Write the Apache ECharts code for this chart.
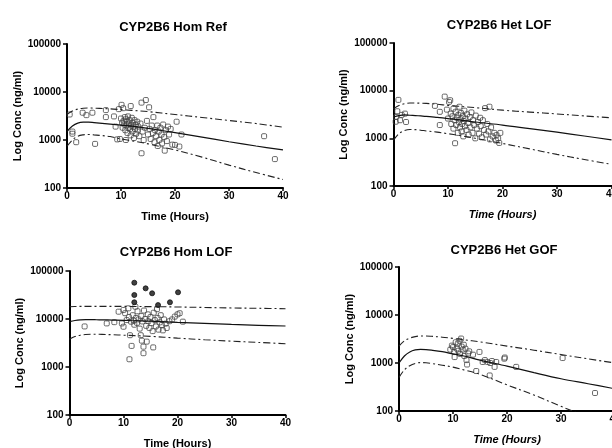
<!DOCTYPE html>
<html>
<head>
<meta charset="utf-8">
<script src="https://cdn.jsdelivr.net/npm/echarts@6/dist/echarts.min.js"></script>
<style>
html,body{margin:0;padding:0;background:#fff;}
#chart{width:612px;height:448px;}
</style>
</head>
<body>
<div id="chart"></div>
<script>
// ---------- DATA ----------
const panelTitles = ['CYP2B6 Hom Ref', 'CYP2B6 Het LOF', 'CYP2B6 Hom LOF', 'CYP2B6 Het GOF'];
const xTickLabels = ['0', '10', '20', '30', '40'];
const yTickLabels = ['100', '1000', '10000', '100000'];
const xAxisTitle = 'Time (Hours)';
const yAxisTitle = 'Log Conc (ng/ml)';

const curveTimes = [0, 1, 2, 3, 4, 5, 6, 8, 10, 12, 15, 20, 25, 30, 35, 40];

// Panel 1: Hom Ref
const homRefMedian = [1500, 1950, 2250, 2350, 2350, 2300, 2250, 2150, 2050, 1950, 1750, 1420, 1150, 920, 750, 620];
const homRefUpper  = [3400, 4000, 4400, 4600, 4650, 4600, 4550, 4450, 4300, 4150, 3900, 3400, 2950, 2550, 2200, 1850];
const homRefLower  = [740, 1000, 1200, 1280, 1300, 1280, 1250, 1180, 1050, 960, 830, 620, 440, 300, 210, 150];
const homRefObs = [
  [0.5,3400],[1.0,1500],[1.0,1350],[1.7,900],[2.9,3700],[3.6,3300],[4.7,3700],[5.2,830],[7.2,4200],[7.2,3000],
  [8.7,3100],[9.0,1900],[9.3,1030],[9.6,4400],[9.8,1050],[10.1,5400],[10.4,4600],[11.8,5100],[10.0,2800],[10.2,2300],
  [10.3,1800],[10.5,2500],[10.6,2100],[10.7,3000],[10.8,1600],[10.9,2700],[10.9,1000],[11.0,2000],[11.1,2400],[11.2,1400],
  [11.3,3100],[11.4,1800],[11.5,2200],[11.6,2600],[11.7,1700],[11.8,1250],[11.9,2000],[12.0,2900],[12.1,1500],[12.2,2300],
  [12.3,1900],[12.4,1100],[12.5,2600],[12.6,1700],[12.7,2100],[12.8,1350],[13.0,2400],[13.1,1600],[13.2,1900],[13.4,1200],
  [13.6,2200],[13.8,6000],[13.8,530],[14.0,1500],[14.2,1000],[14.4,1800],[14.6,6800],[14.8,2500],[15.0,1300],[15.2,4800],
  [15.3,1700],[15.5,1050],[15.7,2000],[15.9,1400],[16.0,3000],[16.2,900],[16.3,1600],[16.5,1200],[16.7,2000],[16.8,750],
  [17.0,1500],[17.1,1000],[17.3,1800],[17.5,1300],[17.6,850],[17.8,2100],[18.0,1150],[18.1,600],[18.3,1600],[18.5,950],
  [18.7,1900],[18.9,1300],[19.2,1700],[19.5,800],[20.0,790],[20.3,2400],[20.8,730],[21.2,1300],[36.5,1200],[38.5,400]
];

// Panel 2: Het LOF
const hetLofMedian = [2800, 3000, 3100, 3050, 3000, 2950, 2900, 2750, 2600, 2450, 2200, 1900, 1600, 1350, 1120, 930];
const hetLofUpper  = [4200, 4900, 5300, 5500, 5500, 5450, 5400, 5200, 4900, 4700, 4400, 3900, 3550, 3250, 2950, 2700];
const hetLofLower  = [910, 1250, 1450, 1530, 1520, 1480, 1430, 1350, 1250, 1150, 1000, 780, 600, 460, 360, 285];
const hetLofObs = [
  [0.4,2230],[0.5,2800],[0.7,3700],[0.9,6400],[1.2,2400],[1.5,3100],[2.1,3300],[2.3,2200],[7.6,4800],[8.5,3600],
  [8.5,1900],[9.4,7500],[9.8,4000],[10.0,2600],[10.2,5800],[10.4,6300],[10.5,3300],[10.6,2000],[10.8,2900],[11.0,1600],
  [11.0,4200],[11.2,2400],[11.3,790],[11.4,3600],[11.5,1900],[11.6,2700],[11.8,1300],[11.9,3100],[12.0,2200],[12.1,4600],
  [12.2,1700],[12.3,2500],[12.4,3400],[12.5,1400],[12.6,2000],[12.7,2900],[12.8,1100],[12.9,2300],[13.0,3800],[13.1,1800],
  [13.2,2600],[13.4,1500],[13.5,3200],[13.7,2100],[13.8,1200],[14.0,2800],[14.1,1700],[14.3,3500],[14.5,1300],[14.6,2400],
  [14.8,1900],[15.0,1000],[15.1,3000],[15.3,1600],[15.5,2200],[15.7,1250],[15.9,2700],[16.0,1800],[16.2,1050],[16.4,2400],
  [16.6,1500],[16.8,4300],[17.0,1200],[17.2,2000],[17.4,1400],[17.6,4600],[17.7,950],[17.9,1700],[18.2,1100],[18.5,1300],
  [18.8,900],[18.9,1170],[19.2,1000],[19.4,800],[19.6,1300]
];

// Panel 3: Hom LOF
const homLofMedian = [8800, 9300, 9600, 9700, 9700, 9650, 9600, 9500, 9400, 9200, 9000, 8500, 8100, 7700, 7400, 7150];
const homLofUpper  = [18000, 18200, 18300, 18300, 18300, 18300, 18300, 18300, 18300, 18200, 18100, 17800, 17400, 17000, 16700, 16400];
const homLofLower  = [3770, 4300, 4600, 4750, 4800, 4800, 4780, 4700, 4600, 4500, 4350, 4000, 3700, 3450, 3250, 3060];
const homLofObs = [
  [2.8,7000],[6.9,8100],[8.3,8600],[9.1,14200],[9.7,8100],[10.0,15400],[10.0,6900],[10.3,13200],[10.6,9500],[10.9,16700],
  [11.0,11000],[11.1,1450],[11.2,4600],[11.4,8800],[11.5,2750],[11.7,12000],[11.9,9200],[12.0,7600],[12.2,18000],[12.3,10500],
  [12.5,8300],[12.6,14500],[12.8,9800],[13.0,6300],[13.2,4600],[13.3,11500],[13.4,3540],[13.5,8900],[13.7,2650],[13.7,1940],
  [13.8,15000],[14.0,10000],[14.2,7200],[14.3,3380],[14.5,12500],[14.6,9000],[14.8,6500],[15.0,11000],[15.2,8200],[15.4,5600],
  [15.5,2560],[15.6,13500],[15.8,9500],[16.0,7000],[16.2,16000],[16.3,10500],[16.5,6000],[16.7,8500],[16.9,12000],[17.1,7500],
  [17.3,5800],[17.5,9800],[17.8,8000],[18.0,6500],[18.5,9000],[19.0,9800],[19.5,11200],[20.0,12500],[20.4,13200],[21.0,8800]
];
const homLofFilled = [[12.0,57000],[12.0,31600],[12.0,22300],[14.1,43500],[15.3,34300],[16.4,19500],[18.6,22300],[20.1,36000]];

// Panel 4: Het GOF
const hetGofMedian = [1000, 1400, 1700, 1870, 1920, 1900, 1850, 1720, 1550, 1400, 1150, 860, 630, 470, 370, 290];
const hetGofUpper  = [2250, 2900, 3300, 3550, 3650, 3650, 3600, 3450, 3250, 3050, 2750, 2250, 1850, 1500, 1220, 1000];
const hetGofLower  = [500, 720, 880, 980, 1020, 1010, 980, 900, 820, 720, 580, 350, 215, 125, 75, 48];
const hetGofObs = [
  [9.5,1900],[9.8,2300],[10.0,2140],[10.2,1700],[10.3,1330],[10.5,2700],[10.7,2000],[10.9,2540],[11.0,1800],[11.2,2900],
  [11.3,1550],[11.5,3230],[11.6,2200],[11.8,1900],[12.0,2400],[12.1,1400],[12.3,1990],[12.5,1150],[12.6,930],[12.8,1580],
  [13.0,1750],[13.7,1490],[14.3,680],[14.9,1700],[15.5,1050],[15.9,1150],[16.4,1050],[16.8,550],[16.9,1000],[17.2,1100],
  [17.7,830],[18.0,1050],[19.5,1230],[19.6,1300],[21.7,830],[30.3,1270],[36.3,237]
];

// ---------- LAYOUT / STYLE ----------
const FONT = '"Liberation Sans", Arial, sans-serif';
const grids = [
  {left: 67,    top: 44,  width: 216, height: 144},
  {left: 393.5, top: 43,  width: 218, height: 143},
  {left: 69.5,  top: 271, width: 216, height: 144},
  {left: 399,   top: 267, width: 216, height: 144}
];
const titleCenters = [[168, 16], [494, 14], [171, 241], [499, 239]];
const italicX = [false, true, false, true];

const zip = (xs, ys) => xs.map((x, i) => [x, ys[i]]);

const option = {
  animation: false,
  backgroundColor: '#fff',
  title: panelTitles.map((t, i) => ({
    text: t,
    left: titleCenters[i][0],
    top: titleCenters[i][1],
    textAlign: 'center',
    textStyle: {fontFamily: FONT, fontWeight: 'bold', fontSize: 13, color: '#000'}
  })),
  grid: grids.map(g => Object.assign({containLabel: false, outerBoundsMode: 'none'}, g)),
  xAxis: grids.map((g, i) => ({
    gridIndex: i,
    type: 'value',
    min: 0, max: 40, interval: 10,
    name: xAxisTitle,
    nameLocation: 'middle',
    nameGap: 23,
    nameTextStyle: {fontFamily: FONT, fontWeight: 'bold', fontSize: 11, color: '#000', fontStyle: italicX[i] ? 'italic' : 'normal'},
    axisLine: {show: true, onZero: false, lineStyle: {color: '#000', width: 2}},
    axisTick: {show: true, length: 3, lineStyle: {color: '#000', width: 1.5}},
    axisLabel: {
      margin: 3,
      fontFamily: FONT, fontWeight: 'bold', fontSize: 10, color: '#000',
      hideOverlap: false,
      formatter: v => xTickLabels[Math.round(v / 10)]
    },
    splitLine: {show: false}
  })),
  yAxis: grids.map((g, i) => ({
    gridIndex: i,
    type: 'log',
    logBase: 10,
    min: 100, max: 100000,
    name: yAxisTitle,
    nameLocation: 'middle',
    nameGap: 44,
    nameTextStyle: {fontFamily: FONT, fontWeight: 'bold', fontSize: 11, color: '#000'},
    axisLine: {show: true, onZero: false, lineStyle: {color: '#000', width: 2}},
    axisTick: {show: true, length: 4, lineStyle: {color: '#000', width: 1.5}},
    minorTick: {show: false},
    axisLabel: {
      margin: 6,
      fontFamily: FONT, fontWeight: 'bold', fontSize: 10, color: '#000',
      formatter: v => {
        const k = Math.round(Math.log10(v)) - 2;
        return yTickLabels[k] !== undefined ? yTickLabels[k] : '';
      }
    },
    splitLine: {show: false}
  })),
  series: []
};

function addPanel(i, obs, median, upper, lower) {
  option.series.push({
    type: 'scatter', xAxisIndex: i, yAxisIndex: i, data: obs,
    symbol: 'roundRect', symbolSize: 5,
    itemStyle: {color: 'rgba(255,255,255,0)', borderColor: '#444', borderWidth: 1}
  });
  const lineBase = {type: 'line', xAxisIndex: i, yAxisIndex: i, showSymbol: false, symbol: 'none', smooth: 0.35, clip: true, z: 3};
  option.series.push(Object.assign({}, lineBase, {data: zip(curveTimes, median), lineStyle: {color: '#111', width: 1.2}}));
  option.series.push(Object.assign({}, lineBase, {data: zip(curveTimes, upper), lineStyle: {color: '#222', width: 1.1, type: [7, 3, 2, 3]}}));
  option.series.push(Object.assign({}, lineBase, {data: zip(curveTimes, lower), lineStyle: {color: '#222', width: 1.1, type: [7, 3, 2, 3]}}));
}

addPanel(0, homRefObs, homRefMedian, homRefUpper, homRefLower);
addPanel(1, hetLofObs, hetLofMedian, hetLofUpper, hetLofLower);
addPanel(2, homLofObs, homLofMedian, homLofUpper, homLofLower);
addPanel(3, hetGofObs, hetGofMedian, hetGofUpper, hetGofLower);
option.series.push({
  type: 'scatter', xAxisIndex: 2, yAxisIndex: 2, data: homLofFilled,
  symbol: 'circle', symbolSize: 5,
  itemStyle: {color: '#111', borderColor: '#111', borderWidth: 1}
});

const chart = echarts.init(document.getElementById('chart'), null, {renderer: 'canvas'});
chart.setOption(option);
</script>
</body>
</html>
